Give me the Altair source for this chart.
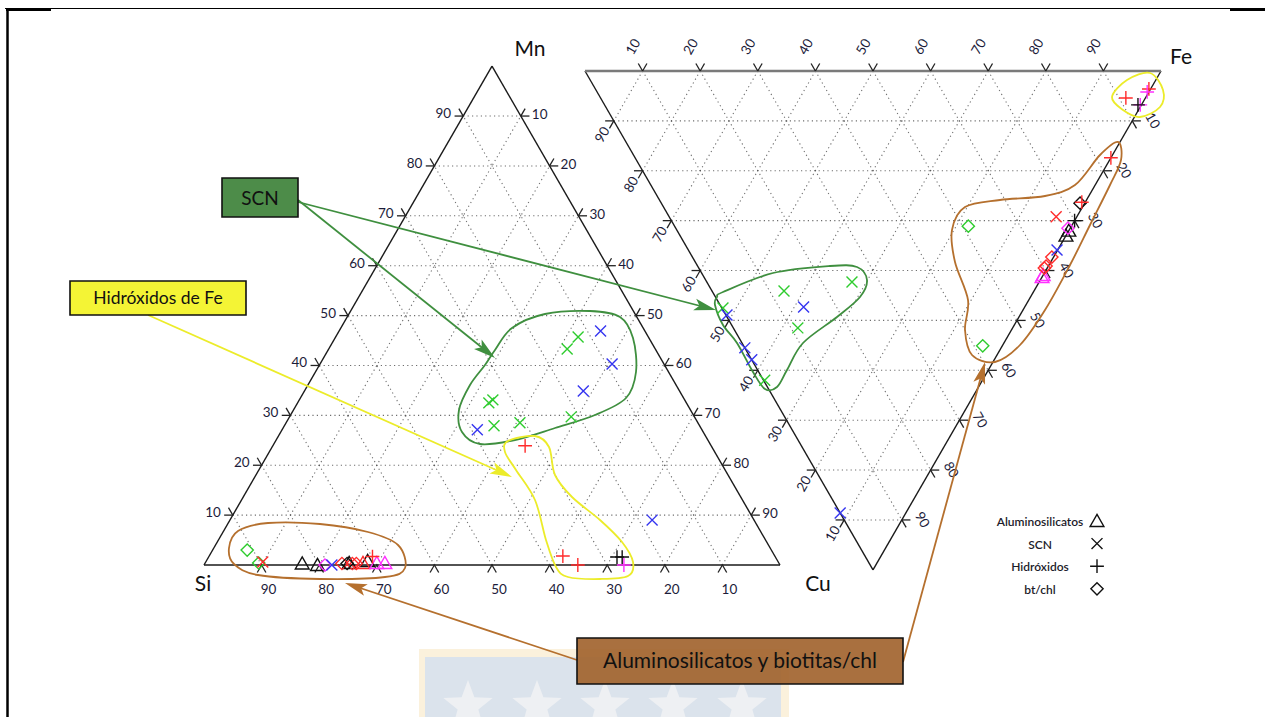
import math
import altair as alt
import pandas as pd

# ------------------------------------------------------------------ data
# Left diagram Si-Mn-Cu (percent). Cu = 100 - Si - Mn
L_SCN_blue_si = [7.7, 9.0, 16.7, 39.0, 17.7, 77.8]
L_SCN_blue_mn = [46.9, 40.3, 34.9, 27.1, 9.0, 0.0]
L_SCN_green_si = [12.2, 15.3, 34.3, 33.3, 35.7, 30.9, 21.4]
L_SCN_green_mn = [45.7, 43.3, 32.5, 33.1, 27.9, 28.5, 29.7]
L_SCN_red_si = [89.5]
L_SCN_red_mn = [0.6]
L_HID_red_si = [32.3, 36.8, 35.1, 69.9]
L_HID_red_mn = [23.9, 1.8, 0.0, 1.7]
L_HID_black_si = [27.5, 26.6]
L_HID_black_mn = [1.6, 1.6]
L_HID_magenta_si = [27.1]
L_HID_magenta_mn = [0.0]
L_BT_green_si = [91.0, 90.3]
L_BT_green_mn = [3.0, 0.4]
L_BT_magenta_si = [79.0]
L_BT_magenta_mn = [0.0]
L_BT_red_si = [75.9, 74.1, 73.4]
L_BT_red_mn = [0.3, 0.3, 0.3]
L_BT_black_si = [75.0]
L_BT_black_mn = [0.3]
L_AL_black_si = [82.8, 80.3, 74.6, 71.2]
L_AL_black_mn = [0.3, 0.0, 0.4, 0.8]
L_AL_red_si = [72.2]
L_AL_red_mn = [0.4]
L_AL_magenta_si = [69.8, 68.4]
L_AL_magenta_mn = [0.4, 0.4]

# Right diagram Mn-Cu-Fe (percent). Fe = 100 - Mn - Cu
R_SCN_green_mn = [52.3, 37.8, 43.4, 37.3, 32.5]
R_SCN_green_cu = [47.5, 62.0, 44.1, 51.5, 42.3]
R_SCN_blue_mn = [50.9, 44.5, 42.1, 38.4, 11.4, 0.1]
R_SCN_blue_cu = [48.9, 55.5, 57.9, 47.3, 88.6, 35.9]
R_SCN_red_mn = [3.6]
R_SCN_red_cu = [29.2]
R_HID_red_mn = [3.4, 0.3, 0.0, 0.6]
R_HID_red_cu = [5.4, 3.6, 17.4, 26.3]
R_HID_magenta_mn = [0.3, 0.2]
R_HID_magenta_cu = [4.2, 6.8]
R_HID_black_mn = [0.6, 0.0]
R_HID_black_cu = [6.8, 30.0]
R_BT_green_mn = [17.9, 3.4]
R_BT_green_cu = [31.1, 55.1]
R_BT_black_mn = [0.8]
R_BT_black_cu = [26.5]
R_BT_magenta_mn = [0.4]
R_BT_magenta_cu = [31.5]
R_BT_red_mn = [0.3, 0.4, 0.5]
R_BT_red_cu = [37.3, 39.1, 39.5]
R_AL_black_mn = [0.0, 0.0]
R_AL_black_cu = [32.0, 33.0]
R_AL_magenta_mn = [0.0, 0.0]
R_AL_magenta_cu = [41.3, 40.9]

TICKS = [10, 20, 30, 40, 50, 60, 70, 80, 90]
LEG_LABELS = ["Aluminosilicatos", "SCN", "Hidróxidos", "bt/chl"]
LEG_TYPES = ["AL", "SCN", "HID", "BT"]

COL = {"blue": "#3535f0", "green": "#2ecc2e", "red": "#ff2b2b",
       "magenta": "#ff30ff", "black": "#111111"}

# ------------------------------------------------------------------ layout
W, H = 1265, 717
X0, Y0, K = 204.0, 565.0, 5.76
S3 = math.sqrt(3) / 2


def px2u(px, py):
    return ((px - X0) / K, (Y0 - py) / K)


LV = {"Si": (0.0, 0.0), "Cu": (100.0, 0.0), "Mn": (50.0, 100 * S3)}
_rm = px2u(585, 71)
RV = {"Mn": _rm, "Fe": (_rm[0] + 100, _rm[1]),
      "Cu": (_rm[0] + 50, _rm[1] - 100 * S3)}


def tern(V, comp):
    x = sum(V[k][0] * v for k, v in comp.items()) / 100
    y = sum(V[k][1] * v for k, v in comp.items()) / 100
    return x, y


xs = alt.Scale(domain=[-X0 / K, (W - X0) / K], nice=False, zero=False)
ys = alt.Scale(domain=[(Y0 - H) / K, Y0 / K], nice=False, zero=False)


def X(f="x"):
    return alt.X(f + ":Q", scale=xs, axis=None)


def Y(f="y"):
    return alt.Y(f + ":Q", scale=ys, axis=None)


# grid / edges / ticks
grid, edges, ticks, labels = [], [], [], []
for V in (LV, RV):
    names = list(V.keys())
    for n in names:
        o1, o2 = [m for m in names if m != n]
        for k in TICKS:
            a = tern(V, {n: k, o1: 100 - k, o2: 0})
            b = tern(V, {n: k, o1: 0, o2: 100 - k})
            grid.append(dict(x=a[0], y=a[1], x2=b[0], y2=b[1]))

edge_specs = [
    (LV, "Si", "Mn", "Mn", -12, -2, 0, "right", "k"),
    (LV, "Mn", "Cu", "Cu", 11, -1, 0, "left", "k"),
    (LV, "Si", "Cu", "Si", 7, 25, 0, "center", "k"),
    (RV, "Mn", "Fe", "Fe", -9, -24, 300, "center", "g"),
    (RV, "Mn", "Cu", "Mn", -11, 14, 300, "center", "k"),
    (RV, "Fe", "Cu", "Cu", 20, 0, 60, "center", "k"),
]
d = 1.5
for V, A, B, lab, ox, oy, ang, al, ec in edge_specs:
    C = [m for m in V if m not in (A, B)][0]
    pa, pb = V[A], V[B]
    edges.append(dict(x=pa[0], y=pa[1], x2=pb[0], y2=pb[1], c=ec))
    other = B if lab == A else A
    for k in TICKS:
        base = tern(V, {lab: k, other: 100 - k, C: 0})
        t1 = tern(V, {lab: k, other: 100 - k + d, C: -d})
        t2 = tern(V, {lab: k + d, other: 100 - k, C: -d})
        for t in (t1, t2):
            ticks.append(dict(x=base[0], y=base[1], x2=t[0], y2=t[1]))
        labels.append(dict(x=base[0] + ox / K, y=base[1] - oy / K,
                           text=str(k), angle=ang, align=al))

grid_df = pd.DataFrame(grid)
edge_df = pd.DataFrame(edges)
tick_df = pd.DataFrame(ticks)
lab_df = pd.DataFrame(labels)

# markers
pts = []
left_groups = [
    ("SCN", "blue", L_SCN_blue_si, L_SCN_blue_mn),
    ("SCN", "green", L_SCN_green_si, L_SCN_green_mn),
    ("SCN", "red", L_SCN_red_si, L_SCN_red_mn),
    ("HID", "red", L_HID_red_si, L_HID_red_mn),
    ("HID", "black", L_HID_black_si, L_HID_black_mn),
    ("HID", "magenta", L_HID_magenta_si, L_HID_magenta_mn),
    ("BT", "green", L_BT_green_si, L_BT_green_mn),
    ("BT", "magenta", L_BT_magenta_si, L_BT_magenta_mn),
    ("BT", "red", L_BT_red_si, L_BT_red_mn),
    ("BT", "black", L_BT_black_si, L_BT_black_mn),
    ("AL", "black", L_AL_black_si, L_AL_black_mn),
    ("AL", "red", L_AL_red_si, L_AL_red_mn),
    ("AL", "magenta", L_AL_magenta_si, L_AL_magenta_mn),
]
for typ, c, si, mn in left_groups:
    for s, m in zip(si, mn):
        x, y = tern(LV, {"Si": s, "Mn": m, "Cu": 100 - s - m})
        pts.append(dict(x=x, y=y, t=typ, c=COL[c]))
right_groups = [
    ("SCN", "green", R_SCN_green_mn, R_SCN_green_cu),
    ("SCN", "blue", R_SCN_blue_mn, R_SCN_blue_cu),
    ("SCN", "red", R_SCN_red_mn, R_SCN_red_cu),
    ("HID", "red", R_HID_red_mn, R_HID_red_cu),
    ("HID", "magenta", R_HID_magenta_mn, R_HID_magenta_cu),
    ("HID", "black", R_HID_black_mn, R_HID_black_cu),
    ("BT", "green", R_BT_green_mn, R_BT_green_cu),
    ("BT", "black", R_BT_black_mn, R_BT_black_cu),
    ("BT", "magenta", R_BT_magenta_mn, R_BT_magenta_cu),
    ("BT", "red", R_BT_red_mn, R_BT_red_cu),
    ("AL", "black", R_AL_black_mn, R_AL_black_cu),
    ("AL", "magenta", R_AL_magenta_mn, R_AL_magenta_cu),
]
for typ, c, mn, cu in right_groups:
    for m, u in zip(mn, cu):
        x, y = tern(RV, {"Mn": m, "Cu": u, "Fe": 100 - m - u})
        pts.append(dict(x=x, y=y, t=typ, c=COL[c]))

# legend
for i, (lab, typ) in enumerate(zip(LEG_LABELS, LEG_TYPES)):
    lx, ly = px2u(1097, 521 + 22.6 * i)
    pts.append(dict(x=lx, y=ly, t=typ, c="#111111"))
pts_df = pd.DataFrame(pts)
leg_df = pd.DataFrame([dict(x=px2u(1040, 522 + 22.6 * i)[0],
                            y=px2u(1040, 522 + 22.6 * i)[1], text=l)
                       for i, l in enumerate(LEG_LABELS)])

SHAPES = {
    "SCN": "M-1,-1L1,1M-1,1L1,-1",
    "HID": "M-1,0L1,0M0,-1L0,1",
    "BT": "M0,-1L1,0L0,1L-1,0Z",
    "AL": "M0,-0.95L1,0.8L-1,0.8Z",
}
SIZES = {"SCN": 120, "HID": 190, "BT": 150, "AL": 190}


def marker_layer(typ):
    return alt.Chart(pts_df[pts_df.t == typ]).mark_point(
        shape=SHAPES[typ], filled=False, size=SIZES[typ], strokeWidth=1.4,
        opacity=1).encode(x=X(), y=Y(), stroke=alt.Stroke("c:N", scale=None))


# annotation outlines (pixel positions of the hand-drawn loops)
GREEN_L = [(495, 350), (512, 328), (545, 314), (590, 311), (620, 317), (633, 338),
           (636, 372), (626, 398), (595, 415), (555, 428), (515, 440), (480, 444),
           (462, 432), (459, 410), (470, 385), (485, 365)]
YELLOW_L = [(508, 441), (535, 436), (549, 447), (555, 475), (572, 497), (600, 520),
            (622, 542), (633, 562), (628, 576), (600, 579), (568, 577), (556, 567),
            (546, 540), (535, 500), (516, 470), (505, 452)]
BROWN_L = [(229, 548), (238, 531), (268, 523), (320, 524), (368, 532), (398, 545),
           (405, 568), (385, 577), (320, 579), (258, 575), (234, 564)]
GREEN_R = [(717, 297), (723, 292), (773, 273), (830, 266), (857, 267), (867, 280),
           (860, 297), (837, 317), (803, 343), (787, 370), (777, 387), (765, 389),
           (753, 372), (737, 343), (723, 325), (715, 305)]
YELLOW_R = [(1112, 97), (1127, 80), (1150, 73), (1163, 90), (1160, 107), (1140, 117),
            (1123, 110)]
BROWN_R = [(1118, 142), (1121, 160), (1110, 185), (1090, 225), (1070, 265), (1045, 310),
           (1020, 345), (995, 362), (972, 355), (965, 330), (968, 300), (955, 262),
           (952, 230), (965, 207), (1000, 200), (1045, 196), (1075, 185), (1100, 155)]
GREEN_C, YELLOW_C, BROWN_C = "#3f8f3f", "#ecec2a", "#b5702e"
loops = []
for name, pl, c in [("gl", GREEN_L, GREEN_C), ("yl", YELLOW_L, YELLOW_C),
                    ("bl", BROWN_L, BROWN_C), ("gr", GREEN_R, GREEN_C),
                    ("yr", YELLOW_R, YELLOW_C), ("br", BROWN_R, BROWN_C)]:
    for i, (px, py) in enumerate(pl):
        u, v = px2u(px, py)
        loops.append(dict(x=u, y=v, g=name, i=i, c=c))
loop_df = pd.DataFrame(loops)

ARROWS = [((298, 200), (495, 358), GREEN_C), ((298, 202), (716, 310), GREEN_C),
          ((148, 315), (512, 477), YELLOW_C), ((577, 660), (345, 583), BROWN_C),
          ((903, 662), (985, 362), BROWN_C)]
arr, heads = [], []
HEAD = 22
for (p0, p1, c) in ARROWS:
    dx, dy = p1[0] - p0[0], p1[1] - p0[1]
    n = math.hypot(dx, dy)
    a = px2u(*p0)
    b = px2u(p1[0] - dx / n * 8, p1[1] - dy / n * 8)
    arr.append(dict(x=a[0], y=a[1], x2=b[0], y2=b[1], c=c))
    ang = math.degrees(math.atan2(dx, -dy)) % 360
    cx, cy = p1[0] - dx / n * HEAD / 2, p1[1] - dy / n * HEAD / 2
    u, v = px2u(cx, cy)
    heads.append(dict(x=u, y=v, ang=ang, c=c))
arr_df = pd.DataFrame(arr)
head_df = pd.DataFrame(heads)

# boxes
BOXES = [((222, 178), (298, 217), "#3a7f35", "SCN", 19),
         ((70, 281), (246, 315), "#f3f31f", "Hidróxidos de Fe", 17.5),
         ((577, 638), (903, 684), "#a0602a", "Aluminosilicatos y biotitas/chl", 21)]
box_df = pd.DataFrame([dict(x=px2u(*p0)[0], y=px2u(*p0)[1], x2=px2u(*p1)[0],
                            y2=px2u(*p1)[1], f=f, text=t, s=s,
                            tx=px2u((p0[0] + p1[0]) / 2, 0)[0],
                            ty=px2u(0, (p0[1] + p1[1]) / 2 + 1)[1])
                       for p0, p1, f, t, s in BOXES])

# watermark
wm_out = pd.DataFrame([dict(x=px2u(419, 649)[0], y=px2u(419, 649)[1],
                            x2=px2u(789, 720)[0], y2=px2u(789, 720)[1])])
wm_in = pd.DataFrame([dict(x=px2u(425, 657)[0], y=px2u(425, 657)[1],
                           x2=px2u(781, 720)[0], y2=px2u(781, 720)[1])])
star_pts = []
for i in range(10):
    r = 1.0 if i % 2 == 0 else 0.42
    t = math.radians(-90 + 36 * i)
    star_pts.append(f"{r*math.cos(t):.3f},{r*math.sin(t):.3f}")
STAR = "M" + "L".join(star_pts) + "Z"
stars_df = pd.DataFrame([dict(x=px2u(sx, 706)[0], y=px2u(sx, 706)[1])
                         for sx in (468, 537, 605, 673, 742)])

corner_df = pd.DataFrame([
    dict(x=px2u(530, 50)[0], y=px2u(530, 50)[1], text="Mn"),
    dict(x=px2u(203, 585)[0], y=px2u(203, 585)[1], text="Si"),
    dict(x=px2u(818, 585)[0], y=px2u(818, 585)[1], text="Cu"),
    dict(x=px2u(1181, 58)[0], y=px2u(1181, 58)[1], text="Fe"),
])

FONT = "Lato"
TXT = "#1c1c3a"

layers = []
# page frame
layers.append(alt.Chart(pd.DataFrame({"a": [0]})).mark_rule(color="black", strokeWidth=1.2)
              .encode(x=alt.value(5), x2=alt.value(1236), y=alt.value(8.5)))
layers.append(alt.Chart(pd.DataFrame({"a": [0]})).mark_rule(color="black", strokeWidth=3)
              .encode(x=alt.value(6), x2=alt.value(51), y=alt.value(9.5)))
layers.append(alt.Chart(pd.DataFrame({"a": [0]})).mark_rule(color="black", strokeWidth=3)
              .encode(x=alt.value(1230), x2=alt.value(1265), y=alt.value(9.5)))
layers.append(alt.Chart(pd.DataFrame({"a": [0]})).mark_rule(color="black", strokeWidth=2.5)
              .encode(x=alt.value(7.5), y=alt.value(8), y2=alt.value(717)))
# watermark
layers.append(alt.Chart(wm_out).mark_rect(fill="#fbefd8", opacity=0.9)
              .encode(x=X(), x2="x2", y=Y(), y2="y2"))
layers.append(alt.Chart(wm_in).mark_rect(fill="#dbe3ec")
              .encode(x=X(), x2="x2", y=Y(), y2="y2"))
layers.append(alt.Chart(stars_df).mark_point(shape=STAR, filled=True, size=2700,
                                             fill="#eef0f3", opacity=1, strokeWidth=0)
              .encode(x=X(), y=Y()))
# grid
layers.append(alt.Chart(grid_df).mark_rule(color="#555555", strokeWidth=1.1,
                                           strokeDash=[1.2, 3.2], opacity=0.85)
              .encode(x=X(), x2="x2", y=Y(), y2="y2"))
# edges
layers.append(alt.Chart(edge_df[edge_df.c == "k"]).mark_rule(color="#1a1a1a", strokeWidth=1.4)
              .encode(x=X(), x2="x2", y=Y(), y2="y2"))
layers.append(alt.Chart(edge_df[edge_df.c == "g"]).mark_rule(color="#7a7a7a", strokeWidth=2.6)
              .encode(x=X(), x2="x2", y=Y(), y2="y2"))
layers.append(alt.Chart(tick_df).mark_rule(color="#222222", strokeWidth=1.3)
              .encode(x=X(), x2="x2", y=Y(), y2="y2"))
# tick labels
for (ang, al), sub in lab_df.groupby(["angle", "align"]):
    layers.append(alt.Chart(sub).mark_text(font=FONT, fontSize=13.5, color=TXT,
                                           align=al, baseline="middle", angle=int(ang))
                  .encode(x=X(), y=Y(), text="text:N"))
# corner labels
layers.append(alt.Chart(corner_df).mark_text(font=FONT, fontSize=21, color="#111111",
                                             align="center", baseline="middle")
              .encode(x=X(), y=Y(), text="text:N"))
# loops
layers.append(alt.Chart(loop_df).mark_line(interpolate="cardinal-closed", strokeWidth=1.8)
              .encode(x=X(), y=Y(), order="i:Q", detail="g:N",
                      color=alt.Color("c:N", scale=None)))
# markers
for typ in ["AL", "BT", "HID", "SCN"]:
    layers.append(marker_layer(typ))
# legend text
layers.append(alt.Chart(leg_df).mark_text(font=FONT, fontSize=12, fontWeight=600,
                                          color="#1c1c2a", align="center", baseline="middle")
              .encode(x=X(), y=Y(), text="text:N"))
# arrows
layers.append(alt.Chart(arr_df).mark_rule(strokeWidth=1.8)
              .encode(x=X(), x2="x2", y=Y(), y2="y2", color=alt.Color("c:N", scale=None)))
layers.append(alt.Chart(head_df).mark_point(shape="M0,-1L0.55,1L0,0.55L-0.55,1Z", filled=True,
                                            size=HEAD * HEAD, opacity=1, strokeWidth=0)
              .encode(x=X(), y=Y(), angle=alt.Angle("ang:Q", scale=None),
                      fill=alt.Fill("c:N", scale=None)))
# boxes
layers.append(alt.Chart(box_df).mark_rect(stroke="#111111", strokeWidth=1.6, fillOpacity=0.9)
              .encode(x=X(), x2="x2", y=Y(), y2="y2", fill=alt.Fill("f:N", scale=None)))
layers.append(alt.Chart(box_df).mark_text(font=FONT, color="#111111", align="center",
                                          baseline="middle")
              .encode(x=alt.X("tx:Q", scale=xs, axis=None), y=alt.Y("ty:Q", scale=ys, axis=None),
                      text="text:N", size=alt.Size("s:Q", scale=None)))

chart = alt.layer(*layers).properties(
    width=W, height=H, autosize=alt.AutoSizeParams(type="none"), padding=0,
    background="white"
).configure_view(stroke=None)

chart.save("out.html", embed_options={"renderer": "svg", "actions": False})
